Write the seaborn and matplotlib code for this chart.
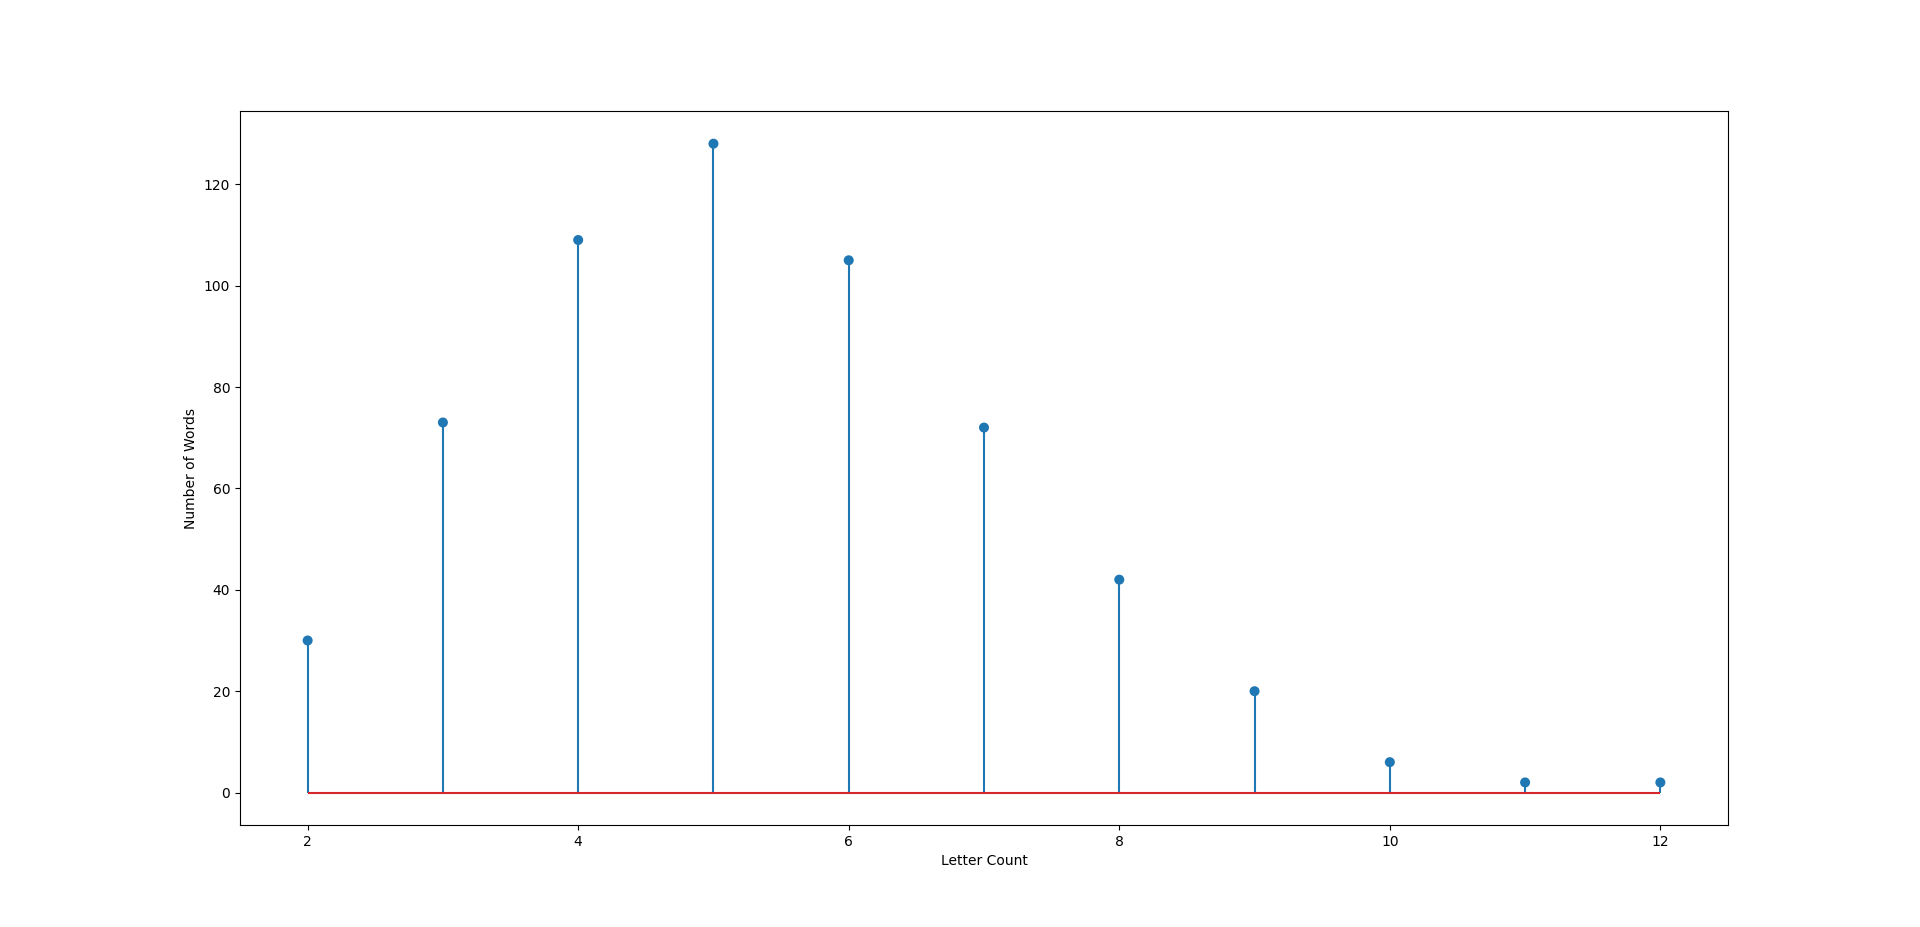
import matplotlib
matplotlib.use('Agg')
import matplotlib.pyplot as plt
import seaborn as sns
import pandas as pd

# letter count vs number of words
letter_counts = [2, 3, 4, 5, 6, 7, 8, 9, 10, 11, 12]
word_counts = [30, 73, 109, 128, 105, 72, 42, 20, 6, 2, 2]

df = pd.DataFrame({"Letter Count": letter_counts, "Number of Words": word_counts})

fig, ax = plt.subplots(figsize=(19.2, 9.27), dpi=100)

# stems and baseline
ax.vlines(df["Letter Count"], 0, df["Number of Words"], color="C0", linewidth=1.5, zorder=2)
ax.hlines(0, min(letter_counts), max(letter_counts), color="C3", linewidth=1.5, zorder=2)

# markers
sns.scatterplot(data=df, x="Letter Count", y="Number of Words", ax=ax,
                color="C0", s=52, edgecolor="none", zorder=3)

ax.set_xlabel("Letter Count")
ax.set_ylabel("Number of Words")

fig.savefig("out.png", dpi=100)
